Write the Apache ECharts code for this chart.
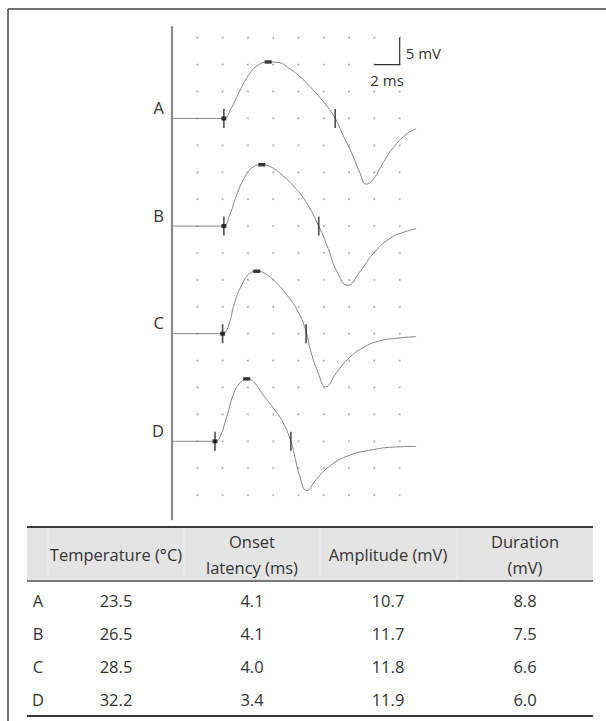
<!DOCTYPE html>
<html>
<head>
<meta charset="utf-8">
<title>CMAP temperature</title>
<script src="https://cdn.jsdelivr.net/npm/echarts@6/dist/echarts.min.js"></script>
<style>
html, body { margin: 0; padding: 0; background: #fff; }
#main { width: 606px; height: 721px; }
</style>
</head>
<body>
<div id="main"></div>
<script>
// waveforms: [ms, mV above own baseline]
var traceA = [[0, 0], [3.9, 0], [4.1, 0], [4.7, 2.0], [5.35, 5.1], [6.1, 8.2], [6.8, 9.9], [7.6, 10.5], [8.4, 10.4], [9.2, 9.4], [10.1, 7.8], [10.9, 5.95], [11.7, 3.85], [12.35, 2.0], [12.95, -0.2], [13.5, -3.0], [14.2, -6.4], [14.85, -10.1], [15.35, -12.2], [15.9, -11.3], [16.7, -8.2], [17.5, -5.4], [18.5, -3.0], [19.3, -1.9]];
var traceB = [[0, 0], [3.9, 0], [4.1, 0], [4.55, 2.0], [5.1, 5.7], [5.75, 9.1], [6.4, 10.95], [7.1, 11.4], [7.85, 10.95], [8.75, 9.4], [9.7, 7.2], [10.6, 4.45], [11.6, 0], [12.35, -4.2], [13.0, -8.25], [13.9, -11.0], [14.85, -8.5], [15.9, -5.15], [17.2, -2.35], [18.5, -1.0], [19.3, -0.5]];
var traceC = [[0, 0], [3.8, 0], [4.0, 0], [4.45, 1.4], [4.95, 5.75], [5.6, 9.45], [6.15, 11.2], [6.7, 11.6], [7.35, 11.2], [8.25, 9.45], [9.15, 7.0], [9.95, 4.2], [10.55, 0.8], [11.0, -3.5], [11.55, -7.25], [12.15, -9.85], [13.0, -7.25], [13.9, -4.75], [15.1, -2.6], [16.4, -1.35], [18.0, -0.8], [19.3, -0.55]];
var traceD = [[0, 0], [3.2, 0], [3.4, 0], [3.75, 0.6], [4.3, 4.35], [4.95, 9.3], [5.5, 11.15], [5.9, 11.6], [6.4, 11.15], [7.2, 8.65], [8.0, 6.2], [8.75, 3.6], [9.4, 0], [9.7, -2.8], [10.1, -6.5], [10.65, -9.15], [11.4, -7.1], [12.45, -4.65], [13.8, -2.8], [15.9, -1.55], [17.75, -1.05], [19.3, -0.95]];

var traceNames = ['A', 'B', 'C', 'D'];
var baselines = [0, -20, -40, -60];

// table values
var temperature = ['23.5', '26.5', '28.5', '32.2'];
var onsetLatency = [4.1, 4.1, 4.0, 3.4];
var amplitude = [10.7, 11.7, 11.8, 11.9];
var duration = [8.8, 7.5, 6.6, 6.0];
var headers = ['Temperature (\u00b0C)', 'Onset\nlatency (ms)', 'Amplitude (mV)', 'Duration\n(mV)'];

// dotted grid: 2 ms x 5 mV
var gridX = [2, 4, 6, 8, 10, 12, 14, 16, 18];
var gridY = [15, 10, 5, 0, -5, -10, -15, -20, -25, -30, -35, -40, -45, -50, -55, -60, -65, -70];

// calibration bar
var scaleBar = [[16, 10], [18, 10], [18, 15]];

var FONT = 'Open Sans';
var TEXT = '#333';

var chart = echarts.init(document.getElementById('main'), null, { renderer: 'svg' });

function buildDots () {
    var dots = [];
    gridY.forEach(function (y) {
        gridX.forEach(function (x) {
            dots.push([x, y]);
        });
    });
    return dots;
}

function shift (trace, base) {
    return trace.map(function (p) { return [p[0], p[1] + base]; });
}

function peakOf (trace) {
    var best = trace[0];
    trace.forEach(function (p) { if (p[1] > best[1]) best = p; });
    return best;
}

var traces = [traceA, traceB, traceC, traceD];
var series = [];

series.push({
    type: 'scatter',
    silent: true,
    symbol: 'circle',
    symbolSize: 2,
    itemStyle: { color: '#a0a0a0' },
    data: buildDots(),
    z: 1
});

var ticks = [], squares = [], peaks = [];
traces.forEach(function (tr, i) {
    var base = baselines[i];
    series.push({
        type: 'line',
        data: shift(tr, base),
        showSymbol: false,
        smooth: 0.5,
        lineStyle: { color: '#858585', width: 1 },
        silent: true,
        z: 2
    });
    ticks.push([onsetLatency[i], base]);
    ticks.push([onsetLatency[i] + duration[i], base]);
    squares.push([onsetLatency[i], base]);
    var pk = peakOf(tr);
    peaks.push([pk[0], pk[1] + base]);
});

series.push({
    type: 'scatter', silent: true, symbol: 'rect', symbolSize: [1.6, 19],
    itemStyle: { color: '#222' }, data: ticks, z: 3
});
series.push({
    type: 'scatter', silent: true, symbol: 'rect', symbolSize: [5, 4],
    itemStyle: { color: '#111' }, data: squares, z: 4
});
series.push({
    type: 'scatter', silent: true, symbol: 'rect', symbolSize: [7, 3.5],
    itemStyle: { color: '#111' }, data: peaks, z: 4
});
series.push({
    type: 'line', silent: true, showSymbol: false, data: scaleBar,
    lineStyle: { color: '#333', width: 1.2 }, z: 3
});

var option = {
    animation: false,
    backgroundColor: '#fff',
    grid: { left: 172, top: 27, width: 253, height: 492.3 },
    xAxis: {
        type: 'value', min: 0, max: 20,
        axisLine: { show: false }, axisTick: { show: false },
        axisLabel: { show: false }, splitLine: { show: false }
    },
    yAxis: {
        type: 'value', min: -74.5, max: 17,
        axisLine: { show: true, lineStyle: { color: '#8a8a8a', width: 2.2 } },
        axisTick: { show: false }, axisLabel: { show: false }, splitLine: { show: false }
    },
    series: series
};
chart.setOption(option);

// labels, calibration text and the table
function text (x, y, str, size, align, extra) {
    var st = {
        text: str, fill: TEXT, fontFamily: FONT, fontSize: size,
        align: align, textAlign: align, verticalAlign: 'middle', textVerticalAlign: 'middle'
    };
    if (extra) Object.keys(extra).forEach(function (k) { st[k] = extra[k]; });
    return { type: 'text', x: x, y: y, silent: true, style: st, z: 10 };
}

function hline (x1, x2, y, color, w) {
    return { type: 'line', silent: true, shape: { x1: x1, y1: y, x2: x2, y2: y }, style: { stroke: color, lineWidth: w }, z: 9 };
}

var g = [];
// frame
g.push(hline(8, 606, 9, '#444', 1.5));
g.push({ type: 'line', silent: true, shape: { x1: 8, y1: 9, x2: 8, y2: 721 }, style: { stroke: '#444', lineWidth: 1.5 } });

traceNames.forEach(function (n, i) {
    var p = chart.convertToPixel({ gridIndex: 0 }, [0, baselines[i]]);
    g.push(text(p[0] - 8, p[1] - 11, n, 16.5, 'right'));
});

var pv = chart.convertToPixel({ gridIndex: 0 }, [18, 12.5]);
g.push(text(pv[0] + 6, pv[1] + 2, '5 mV', 15, 'left'));
var ph = chart.convertToPixel({ gridIndex: 0 }, [17, 10]);
g.push(text(ph[0], ph[1] + 15, '2 ms', 15, 'center'));

// table geometry
var tLeft = 27, tRight = 593, tTop = 527, hBottom = 581, tBottom = 716;
var colCenters = [116, 252, 388, 525];
var colBounds = [48, 184, 320, 457];
var rowY = [600, 633, 666, 699];

g.push({ type: 'rect', silent: true, shape: { x: tLeft, y: tTop, width: tRight - tLeft, height: hBottom - tTop }, style: { fill: '#e4e4e4' }, z: 8 });
colBounds.forEach(function (x) {
    g.push({ type: 'line', silent: true, shape: { x1: x, y1: tTop, x2: x, y2: hBottom }, style: { stroke: '#eeeeee', lineWidth: 1 }, z: 8 });
});
g.push(hline(tLeft, tRight, tTop, '#3a3a3a', 2));
g.push(hline(tLeft, tRight, hBottom, '#777', 2));
g.push(hline(tLeft, tRight, tBottom, '#3a3a3a', 2));

headers.forEach(function (h, i) {
    g.push(text(colCenters[i], 554, h, 16.5, 'center', { lineHeight: 26 }));
});

traceNames.forEach(function (n, i) {
    var y = rowY[i];
    g.push(text(38, y, n, 16.5, 'center'));
    g.push(text(colCenters[0], y, temperature[i], 16.5, 'center'));
    g.push(text(colCenters[1], y, onsetLatency[i].toFixed(1), 16.5, 'center'));
    g.push(text(colCenters[2], y, amplitude[i].toFixed(1), 16.5, 'center'));
    g.push(text(colCenters[3], y, duration[i].toFixed(1), 16.5, 'center'));
});

chart.setOption({ graphic: g });
</script>
</body>
</html>
